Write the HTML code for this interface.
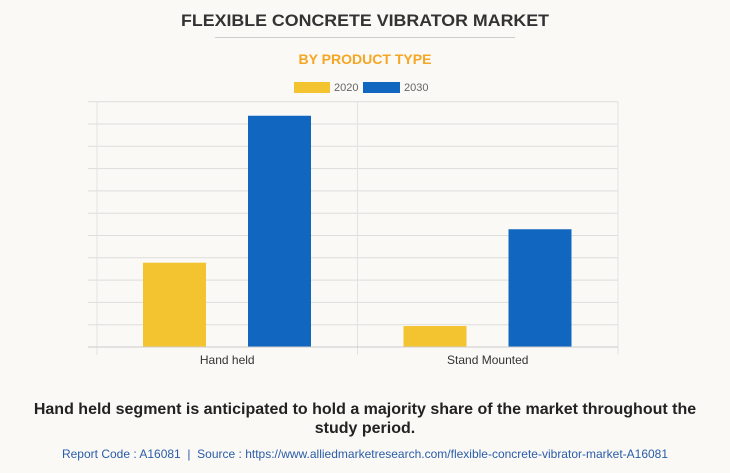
<!DOCTYPE html>
<html><head><meta charset="utf-8"><style>
body{margin:0;background:#faf9f5;font-family:"Liberation Sans",sans-serif}
</style></head><body>
<svg width="730" height="473" xmlns="http://www.w3.org/2000/svg" style="display:block">
<rect width="730" height="473" fill="#faf9f5"/>
<text x="365" y="26" text-anchor="middle" font-weight="bold" font-size="17" fill="#333" textLength="368" lengthAdjust="spacingAndGlyphs">FLEXIBLE CONCRETE VIBRATOR MARKET</text>
<line x1="215" y1="37.5" x2="515" y2="37.5" stroke="#ccc"/>
<text x="365" y="64" text-anchor="middle" font-weight="bold" font-size="14" fill="#f5a623" textLength="133" lengthAdjust="spacingAndGlyphs">BY PRODUCT TYPE</text>
<g>
<rect x="294" y="82" width="36" height="11" fill="#f4c430"/>
<text x="334" y="91" font-size="11" fill="#666">2020</text>
<rect x="363" y="82" width="37" height="11" fill="#1166c0"/>
<text x="404" y="91" font-size="11" fill="#666">2030</text>
</g>
<g id="plot"></g>
<text x="365" y="414" text-anchor="middle" font-weight="bold" font-size="16" fill="#222">Hand held segment is anticipated to hold a majority share of the market throughout the</text>
<text x="365" y="433" text-anchor="middle" font-weight="bold" font-size="16" fill="#222">study period.</text>
<text x="365" y="458" text-anchor="middle" font-size="12" fill="#2a5caa">Report Code : A16081 &#160;|&#160; Source : https://www.alliedmarketresearch.com/flexible-concrete-vibrator-market-A16081</text>
</svg>
<script>
const categories = ["Hand held", "Stand Mounted"];
const series2020 = [3.78, 0.94];
const series2030 = [10.37, 5.28];
const yMax = 11;
const gridCount = 11;

const NS = "http://www.w3.org/2000/svg";
const plot = document.getElementById("plot");
const plotLeft = 97, plotRight = 618, plotTop = 101.7, plotBottom = 347;
const catW = (plotRight - plotLeft) / categories.length;
const yScale = v => plotBottom - v / yMax * (plotBottom - plotTop);
function mk(tag, attrs){const e=document.createElementNS(NS,tag);for(const k in attrs)e.setAttribute(k,attrs[k]);plot.appendChild(e);return e;}
for(let i=0;i<=gridCount;i++){
  const yy = yScale(i * yMax / gridCount);
  const g = mk("line",{x1:88,x2:plotRight,y1:yy,y2:yy,stroke:"#ddd"});
  
  
}
for(let i=0;i<=categories.length;i++){
  const xx = plotLeft + i*catW;
  const l = mk("line",{x1:xx,x2:xx,y1:plotTop,y2:plotBottom+8,stroke:"#e2e2e2"});
  
  
}
categories.forEach((c,i)=>{
  const x0 = plotLeft + i*catW;
  const b1 = mk("rect",{x:x0+46,y:yScale(series2020[i]),width:63,height:plotBottom-yScale(series2020[i]),fill:"#f4c430"});
  
  
  const b2 = mk("rect",{x:x0+151,y:yScale(series2030[i]),width:63,height:plotBottom-yScale(series2030[i]),fill:"#1166c0"});
  
  
  const t = mk("text",{x:x0+catW/2,y:364,"text-anchor":"middle","font-size":"12",fill:"#333"});
  t.textContent = c;
  
  
});
const ax = mk("line",{x1:88,x2:plotRight,y1:plotBottom,y2:plotBottom,stroke:"#ccc"});


</script>
</body></html>
